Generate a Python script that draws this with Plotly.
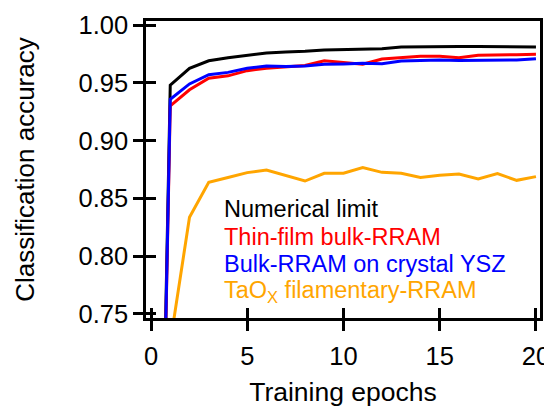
import plotly.graph_objects as go

epochs = list(range(0, 21))

numerical_limit = [0.10, 0.948, 0.9625, 0.969, 0.9717, 0.974, 0.9758, 0.9767, 0.9772, 0.9784,
                   0.9787, 0.979, 0.9795, 0.981, 0.9813, 0.9813, 0.9813, 0.9813, 0.9813, 0.981, 0.981]
thin_film = [0.10, 0.930, 0.944, 0.954, 0.956, 0.9605, 0.9625, 0.9637, 0.965, 0.969,
             0.9677, 0.966, 0.9706, 0.9717, 0.973, 0.973, 0.9717, 0.9738, 0.9738, 0.9743, 0.9746]
bulk_ysz = [0.10, 0.9357, 0.949, 0.957, 0.959, 0.9625, 0.9645, 0.964, 0.9645, 0.966,
            0.9663, 0.9668, 0.9665, 0.9689, 0.9692, 0.9697, 0.9692, 0.9695, 0.9695, 0.9697, 0.9709]
taox = [0.10, 0.725, 0.8336, 0.8639, 0.868, 0.8723, 0.8746, 0.8697, 0.865, 0.8717,
        0.8717, 0.8766, 0.8725, 0.8717, 0.868, 0.870, 0.871, 0.8668, 0.8714, 0.8656, 0.8688]

series = [
    ("Numerical limit", numerical_limit, "black"),
    ("Thin-film bulk-RRAM", thin_film, "#ff0000"),
    ("Bulk-RRAM on crystal YSZ", bulk_ysz, "#0000ff"),
    ("TaO<sub>X</sub> filamentary-RRAM", taox, "#ffa500"),
]

y_ticks = [0.75, 0.80, 0.85, 0.90, 0.95, 1.00]
x_ticks = [0, 5, 10, 15, 20]

FONT = "Liberation Sans, Arial, sans-serif"
XR = [-0.26, 20.21]
YR = [0.7465, 1.00346]

fig = go.Figure()
for i, (name, vals, col) in enumerate(series):
    on_overlay = i == len(series) - 1
    fig.add_trace(go.Scatter(x=epochs, y=vals, mode="lines", name=name,
                             xaxis="x2" if on_overlay else "x",
                             yaxis="y2" if on_overlay else "y",
                             line=dict(color=col, width=3), showlegend=False))

# text-only legend, one line per series
legend_y = [0.367, 0.274, 0.182, 0.0886]
for (name, _, col), ly in zip(series, legend_y):
    fig.add_annotation(text=name, xref="paper", yref="paper", x=0.192, y=ly,
                       xanchor="left", yanchor="middle", align="left", showarrow=False,
                       font=dict(family=FONT, size=23.5, color=col))

axis_common = dict(showgrid=False, zeroline=False, linecolor="black", linewidth=2.5,
                   tickcolor="black", tickwidth=2.5, ticklen=10, automargin=False,
                   tickfont=dict(family=FONT, size=25.5, color="black"))

fig.update_layout(
    width=544, height=399,
    margin=dict(l=138, r=12, t=13, b=89),
    plot_bgcolor="white", paper_bgcolor="white",
    xaxis=dict(range=XR, tickvals=x_ticks, ticks="outside", showline=True, mirror=True,
               ticklabelstandoff=4,
               title=dict(text="Training epochs", font=dict(family=FONT, size=26.5, color="black"),
                          standoff=23),
               **axis_common),
    yaxis=dict(range=YR, tickvals=y_ticks, tickformat=".2f", ticks="outside", showline=True,
               mirror=True, ticklabelstandoff=0,
               title=dict(text="Classification accuracy", font=dict(family=FONT, size=26, color="black"),
                          standoff=37),
               **axis_common),
    xaxis2=dict(range=XR, tickvals=x_ticks, ticks="inside", overlaying="x", anchor="y2",
                showline=False, showticklabels=False, showgrid=False, zeroline=False,
                tickcolor="black", tickwidth=2.5, ticklen=10, automargin=False),
    yaxis2=dict(range=YR, tickvals=y_ticks, ticks="inside", overlaying="y", anchor="x2",
                showline=False, showticklabels=False, showgrid=False, zeroline=False,
                tickcolor="black", tickwidth=2.5, ticklen=10, automargin=False),
)

fig.write_html("out.html")
